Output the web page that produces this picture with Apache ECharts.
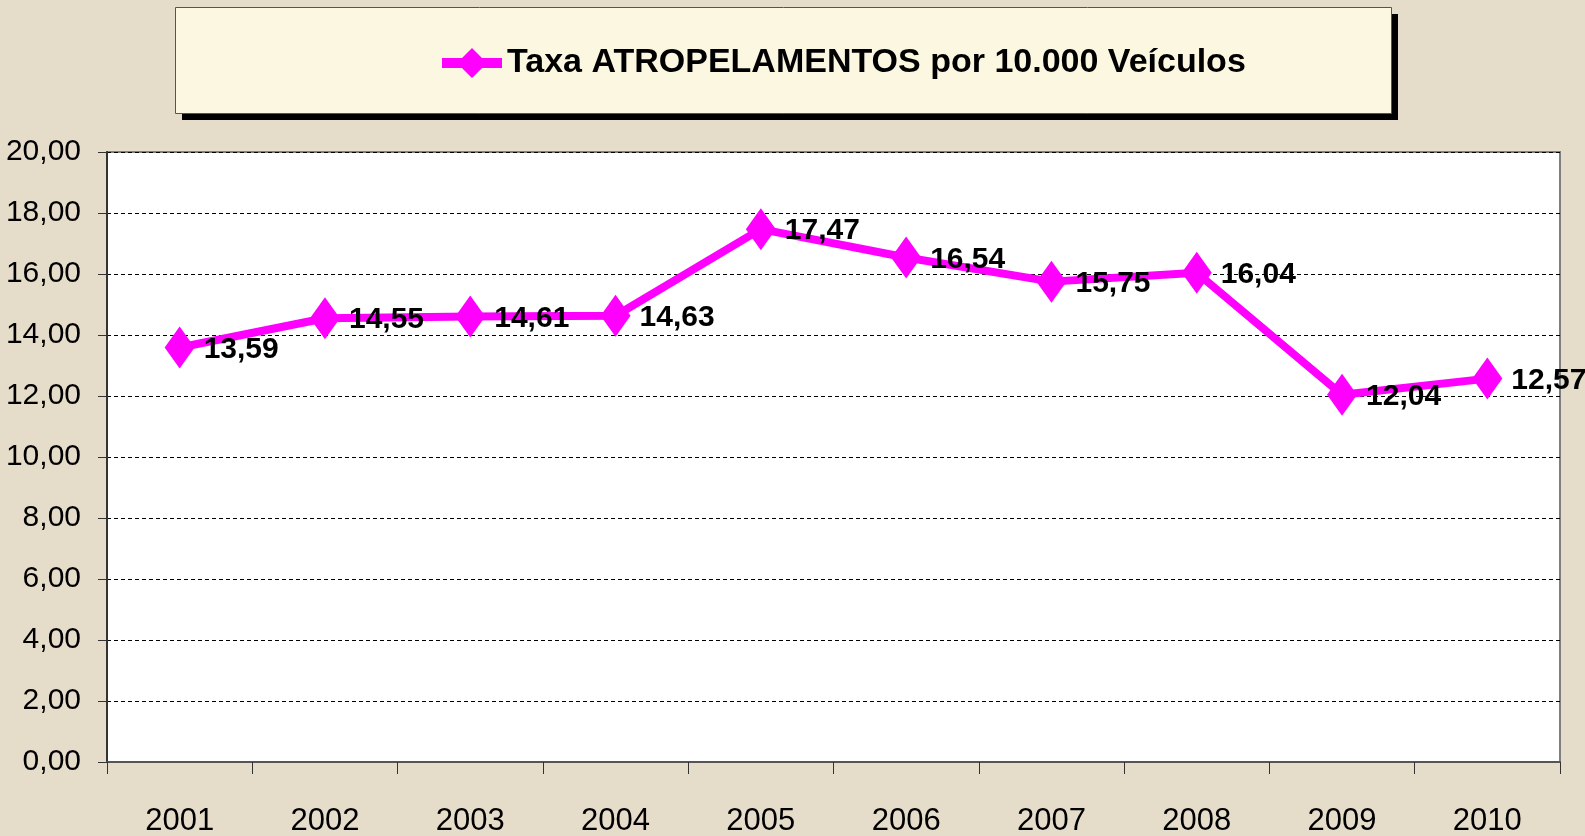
<!DOCTYPE html>
<html>
<head>
<meta charset="utf-8">
<script src="https://cdn.jsdelivr.net/npm/echarts@6/dist/echarts.min.js"></script>
<style>
html,body{margin:0;padding:0;background:#E5DCCA;}
#chart{width:1585px;height:836px;}
</style>
</head>
<body>
<div id="chart"></div>
<script>
const years = ['2001','2002','2003','2004','2005','2006','2007','2008','2009','2010'];
const taxa = [13.59, 14.55, 14.61, 14.63, 17.47, 16.54, 15.75, 16.04, 12.04, 12.57];
const seriesName = 'Taxa ATROPELAMENTOS por 10.000 Veículos';

const FONT = '"Liberation Sans Narrow","Arial Narrow","Liberation Sans",Arial,sans-serif';
const fmt = v => v.toFixed(2).replace('.', ',');

const chart = echarts.init(document.getElementById('chart'));
chart.setOption({
  backgroundColor: '#E5DCCA',
  animation: false,
  textStyle: { fontFamily: FONT },
  graphic: [
    { type: 'rect', z: 0, shape: { x: 182, y: 14, width: 1216, height: 106 }, style: { fill: '#000' } },
    { type: 'rect', z: 1, shape: { x: 175.5, y: 7.5, width: 1216, height: 106 }, style: { fill: '#FCF7E1', stroke: '#555', lineWidth: 1 } }
  ],
  legend: {
    top: 41,
    left: 437,
    z: 5,
    itemWidth: 60,
    itemHeight: 30,
    itemGap: 10,
    icon: 'path://M0,10 L20,10 L30,0 L40,10 L60,10 L60,20 L40,20 L30,30 L20,20 L0,20 Z',
    textStyle: { fontFamily: FONT, fontSize: 34, fontWeight: 'bold', color: '#000' },
    data: [seriesName]
  },
  grid: {
    left: 107, right: 25, top: 152, bottom: 74,
    outerBoundsMode: 'none',
    containLabel: false,
    show: true, backgroundColor: '#fff', borderColor: '#7f7f7f', borderWidth: 2
  },
  xAxis: {
    type: 'category',
    data: years,
    boundaryGap: true,
    axisLine: { show: true, lineStyle: { color: '#555', width: 2 } },
    axisTick: { show: true, length: 12, lineStyle: { color: '#333', width: 1 } },
    axisLabel: { fontFamily: FONT, fontSize: 31, color: '#000', margin: 44 }
  },
  yAxis: {
    type: 'value',
    min: 0, max: 20, interval: 2,
    axisLine: { show: true, lineStyle: { color: '#333', width: 2 } },
    axisTick: { show: true, length: 9, lineStyle: { color: '#333', width: 1 } },
    axisLabel: { fontFamily: FONT, fontSize: 30, color: '#000', margin: 26, formatter: v => fmt(v) },
    splitLine: { show: true, lineStyle: { color: '#000', type: [4, 3], width: 1 } }
  },
  series: [{
    name: seriesName,
    type: 'line',
    data: taxa,
    symbol: 'diamond',
    symbolSize: [30, 42],
    itemStyle: { color: '#FF00FF' },
    lineStyle: { color: '#FF00FF', width: 8 },
    label: {
      show: true, position: 'right', distance: 9,
      fontFamily: FONT, fontSize: 30, fontWeight: 'bold', color: '#000',
      offset: [0, 2],
      formatter: p => fmt(p.value)
    }
  }]
});
</script>
</body>
</html>
